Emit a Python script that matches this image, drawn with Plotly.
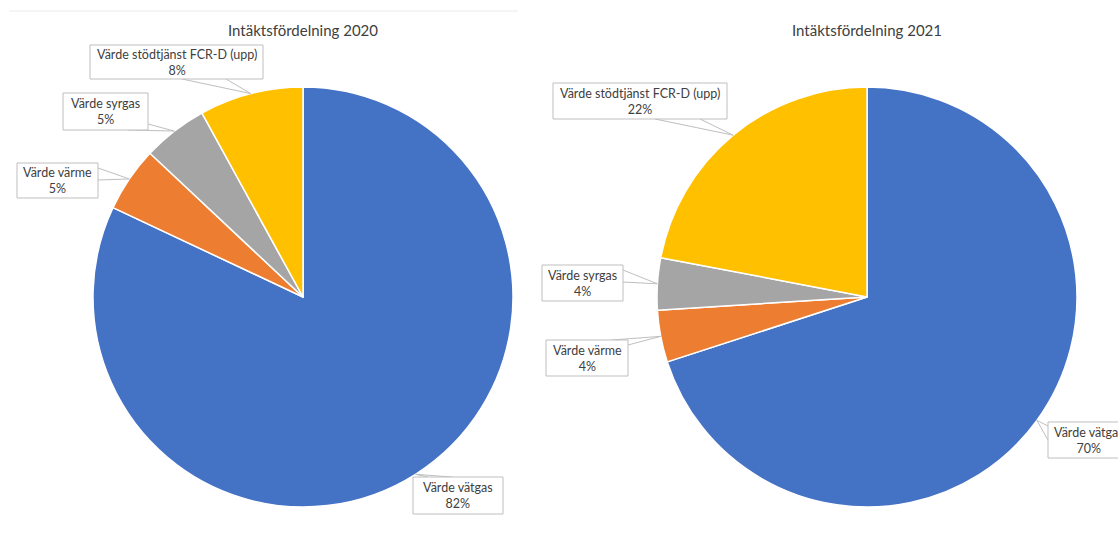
import plotly.graph_objects as go
import math

# ---------------- data ----------------
categories = ["Värde vätgas", "Värde värme", "Värde syrgas", "Värde stödtjänst FCR-D (upp)"]
values_2020 = [82, 5, 5, 8]
values_2021 = [70, 4, 4, 22]
titles = ["Intäktsfördelning 2020", "Intäktsfördelning 2021"]
colors = ["#4472C4", "#ED7D31", "#A5A5A5", "#FFC000"]

# ---------------- layout (pixels) ----------------
W, H = 1118, 542
FONT = "Lato"
TXT = "#404040"
pies = [
    dict(values=values_2020, cx=303, cy=297, r=210, title_y=30,
         boxes=[  # (cx, cy, w, h), wedge base points
             dict(c=(458, 495.5), s=(90, 37), base=[(428, 477), (452, 477)]),
             dict(c=(57.5, 180.5), s=(81, 35), base=[(98, 168), (98, 180)]),
             dict(c=(105.5, 111.5), s=(85, 37), base=[(128, 130), (148, 124)]),
             dict(c=(176.5, 62), s=(173, 34), base=[(182, 79), (226, 79)]),
         ]),
    dict(values=values_2021, cx=867, cy=297, r=210, title_y=30,
         boxes=[
             dict(c=(1089, 440), s=(82, 36), base=[(1048, 426), (1048, 440)]),
             dict(c=(587, 358), s=(82, 36), base=[(612, 340), (628, 345)]),
             dict(c=(582.5, 283), s=(81, 36), base=[(623, 270), (623, 282)]),
             dict(c=(640, 101), s=(174, 36), base=[(655, 119), (700, 119)]),
         ]),
]


def px(x):
    return x / W


def py(y):
    return 1 - y / H


fig = go.Figure()
shapes = []
annotations = []

# faint chart-area border line at top of left chart
shapes.append(dict(type="line", xref="paper", yref="paper",
                   x0=px(9), x1=px(518), y0=py(11), y1=py(11),
                   line=dict(color="#ebebeb", width=1)))

for p, title in zip(pies, titles):
    cx, cy, r = p["cx"], p["cy"], p["r"]
    fig.add_trace(go.Pie(
        labels=categories, values=p["values"], sort=False,
        direction="clockwise", rotation=0,
        marker=dict(colors=colors, line=dict(color="white", width=1.5)),
        textinfo="none", hoverinfo="skip", showlegend=False,
        domain=dict(x=[px(cx - r), px(cx + r)], y=[py(cy + r), py(cy - r)]),
    ))
    annotations.append(dict(text=title, xref="paper", yref="paper",
                            x=px(cx), y=py(p["title_y"]), showarrow=False,
                            xanchor="center", yanchor="middle",
                            font=dict(family=FONT, size=15, color=TXT)))
    total = sum(p["values"])
    cum = 0
    for cat, v, b in zip(categories, p["values"], p["boxes"]):
        mid = (cum + v / 2) / total * 2 * math.pi
        cum += v
        tx = cx + r * math.sin(mid)
        ty = cy - r * math.cos(mid)
        (b1x, b1y), (b2x, b2y) = b["base"]
        shapes.append(dict(type="path", xref="paper", yref="paper",
                           path=f"M {px(b1x)} {py(b1y)} L {px(tx)} {py(ty)} L {px(b2x)} {py(b2y)}",
                           line=dict(color="#bfbfbf", width=1)))
        bx, by = b["c"]
        bw, bh = b["s"]
        shapes.append(dict(type="rect", xref="paper", yref="paper",
                           x0=px(bx - bw / 2), x1=px(bx + bw / 2),
                           y0=py(by + bh / 2), y1=py(by - bh / 2),
                           line=dict(color="#bfbfbf", width=1), fillcolor="white"))
        pct = round(v / total * 100)
        annotations.append(dict(text=f"{cat}<br>{pct}%", xref="paper", yref="paper",
                                x=px(bx), y=py(by), showarrow=False,
                                xanchor="center", yanchor="middle", align="center",
                                font=dict(family=FONT, size=12.5, color=TXT)))

fig.update_layout(
    width=W, height=H,
    margin=dict(l=0, r=0, t=0, b=0),
    paper_bgcolor="white", plot_bgcolor="white",
    shapes=shapes, annotations=annotations,
)

fig.write_html("out.html")
